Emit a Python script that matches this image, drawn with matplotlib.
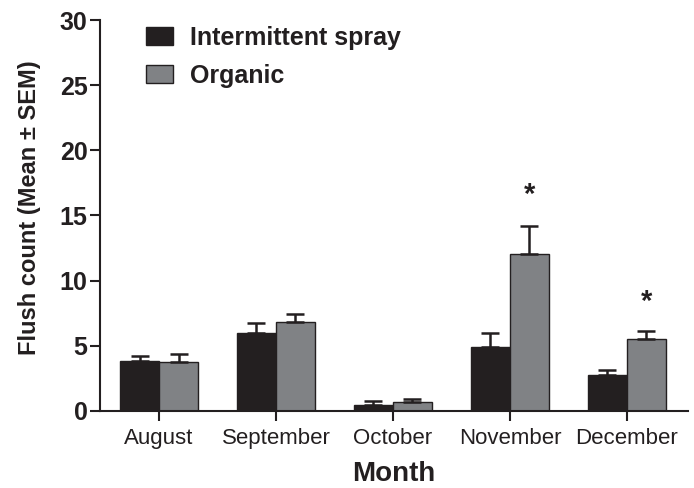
import matplotlib
matplotlib.use("Agg")
import matplotlib.pyplot as plt
import numpy as np
from matplotlib.patches import Patch

months = ["August", "September", "October", "November", "December"]
spray_mean = [3.85, 6.0, 0.45, 4.9, 2.75]
spray_sem = [0.4, 0.75, 0.3, 1.05, 0.4]
organic_mean = [3.75, 6.8, 0.7, 12.05, 5.5]
organic_sem = [0.65, 0.65, 0.25, 2.15, 0.65]
sig_months = ["November", "December"]
sig_heights = [16.6, 8.4]
series_names = ["Intermittent spray", "Organic"]

plt.rcParams['font.family'] = ['Liberation Sans', 'DejaVu Sans']

fig = plt.figure(figsize=(6.94, 4.88), dpi=100)
ax = fig.add_axes([0.144, 0.158, 0.847, 0.801])

x = np.arange(len(months))
w = 1/3
dark = "#231f20"
gray = "#808285"
err_kw = dict(elinewidth=1.8, capthick=1.8, ecolor="#231f20", capsize=6.5)
ax.bar(x - w/2, spray_mean, w, color=dark, edgecolor="#231f20", linewidth=1.0,
       yerr=[np.zeros(len(x)), spray_sem], error_kw=err_kw, zorder=2)
ax.bar(x + w/2, organic_mean, w, color=gray, edgecolor="#231f20", linewidth=1.0,
       yerr=[np.zeros(len(x)), organic_sem], error_kw=err_kw, zorder=2)

for m, h in zip(sig_months, sig_heights):
    i = months.index(m)
    ax.text(i + w/2, h, "*", ha="center", va="center", fontsize=21,
            fontweight="bold", color="#231f20")

ax.set_xlim(-0.505, 4.52)
ax.set_ylim(0, 30)
ax.set_yticks([0, 5, 10, 15, 20, 25, 30])
ax.set_xticks(x)
ax.set_xticklabels(months, fontsize=16)
for lab in ax.get_yticklabels():
    lab.set_fontweight("bold")
    lab.set_fontsize(18)
ax.tick_params(axis="x", length=7, width=1.5, color="#231f20", pad=5, labelcolor="#231f20")
ax.tick_params(axis="y", length=7, width=1.5, color="#231f20", pad=2, labelcolor="#231f20")
for s in ["top", "right"]:
    ax.spines[s].set_visible(False)
for s in ["left", "bottom"]:
    ax.spines[s].set_linewidth(1.5)
    ax.spines[s].set_color("#231f20")

ax.set_xlabel("Month", fontsize=20, fontweight="bold", color="#231f20", labelpad=9)
ax.set_ylabel("Flush count (Mean ± SEM)", fontsize=17, fontweight="bold", color="#231f20")
ax.yaxis.set_label_coords(-0.10, 0.52)

handles = [Patch(facecolor=dark, edgecolor="#231f20", linewidth=1.0),
           Patch(facecolor=gray, edgecolor="#231f20", linewidth=1.0)]
leg = fig.legend(handles, series_names, loc="upper left",
                 bbox_to_anchor=(146/694, 1 - 26/488), borderaxespad=0, borderpad=0,
                 frameon=False, prop=dict(size=18, weight="bold"),
                 handlelength=1.08, handleheight=0.72, handletextpad=0.68, labelspacing=0.55)
for t in leg.get_texts():
    t.set_color("#231f20")

fig.savefig("out.png", dpi=100)
